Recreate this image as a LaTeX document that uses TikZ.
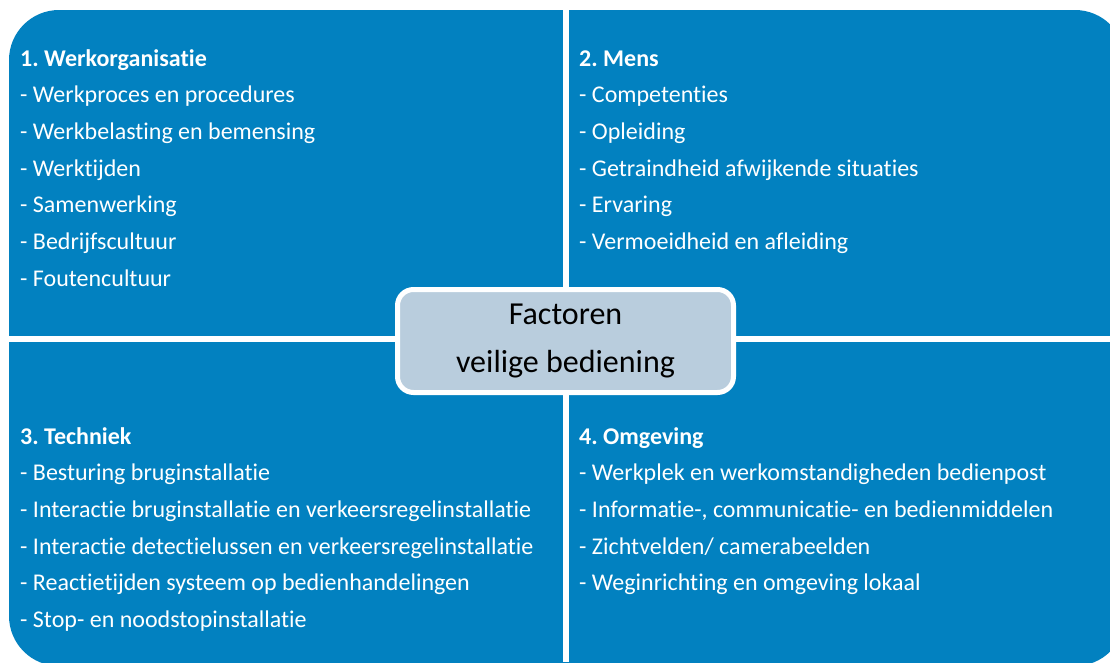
\documentclass[tikz,border=0pt]{standalone}
\usepackage{fontspec}
\setmainfont{Carlito}[Ligatures=NoCommon]
\frenchspacing
\usetikzlibrary{positioning}
\definecolor{vakblauw}{RGB}{2,129,192}
\definecolor{kerngrijs}{RGB}{185,205,221}

\tikzset{
  kop/.style={anchor=base west, inner sep=0pt, text=white, font=\fontsize{24}{28}\selectfont\bfseries},
  punt/.style={anchor=base west, inner sep=0pt, text=white, font=\fontsize{24}{28}\selectfont},
  kern/.style={draw=white, line width=5pt, fill=kerngrijs, rounded corners=16pt,
    minimum width=336pt, minimum height=103pt, align=center, text=black,
    font=\fontsize{32}{48}\selectfont}
}

\begin{document}
\begin{tikzpicture}[x=1pt, y=-1pt]
        \clip (0,0) rectangle (1110,662);
        % Blue field, split into four by white gaps
        \fill[vakblauw, rounded corners=50pt] (9,10) rectangle (1125,666);
        \fill[white] (563,0) rectangle (569,662);
        \fill[white] (0,336) rectangle (1110,342);

        % Centre box
        \node[kern] (kern) at (565.5,341) {Factoren\\veilige bediening};

        % 1. Werkorganisatie
        \node[kop] (wo) at (20,66) {1. Werkorganisatie};
        \node[punt] (wo1) at (20,102.7) {- Werkproces en procedures};
        \node[punt] (wo2) at (20,139.4) {- Werkbelasting en bemensing};
        \node[punt] (wo3) at (20,176.1) {- Werktijden};
        \node[punt] (wo4) at (20,212.8) {- Samenwerking};
        \node[punt] (wo5) at (20,249.5) {- Bedrijfscultuur};
        \node[punt] (wo6) at (20,286.2) {- Foutencultuur};

        % 2. Mens
        \node[kop] (mens) at (579,66) {2. Mens};
        \node[punt] (mens1) at (579,102.7) {- Competenties};
        \node[punt] (mens2) at (579,139.4) {- Opleiding};
        \node[punt] (mens3) at (579,176.1) {- Getraindheid afwijkende situaties};
        \node[punt] (mens4) at (579,212.8) {- Ervaring};
        \node[punt] (mens5) at (579,249.5) {- Vermoeidheid en afleiding};

        % 3. Techniek
        \node[kop] (tech) at (20,444) {3. Techniek};
        \node[punt] (tech1) at (20,480.7) {- Besturing bruginstallatie};
        \node[punt] (tech2) at (20,517.4) {- Interactie bruginstallatie en verkeersregelinstallatie};
        \node[punt] (tech3) at (20,554.1) {- Interactie detectielussen en verkeersregelinstallatie};
        \node[punt] (tech4) at (20,590.8) {- Reactietijden systeem op bedienhandelingen};
        \node[punt] (tech5) at (20,627.5) {- Stop- en noodstopinstallatie};

        % 4. Omgeving
        \node[kop] (omg) at (579,444) {4. Omgeving};
        \node[punt] (omg1) at (579,480.7) {- Werkplek en werkomstandigheden bedienpost};
        \node[punt] (omg2) at (579,517.4) {- Informatie-, communicatie- en bedienmiddelen};
        \node[punt] (omg3) at (579,554.1) {- Zichtvelden/ camerabeelden};
        \node[punt] (omg4) at (579,590.8) {- Weginrichting en omgeving lokaal};
\end{tikzpicture}
\end{document}
